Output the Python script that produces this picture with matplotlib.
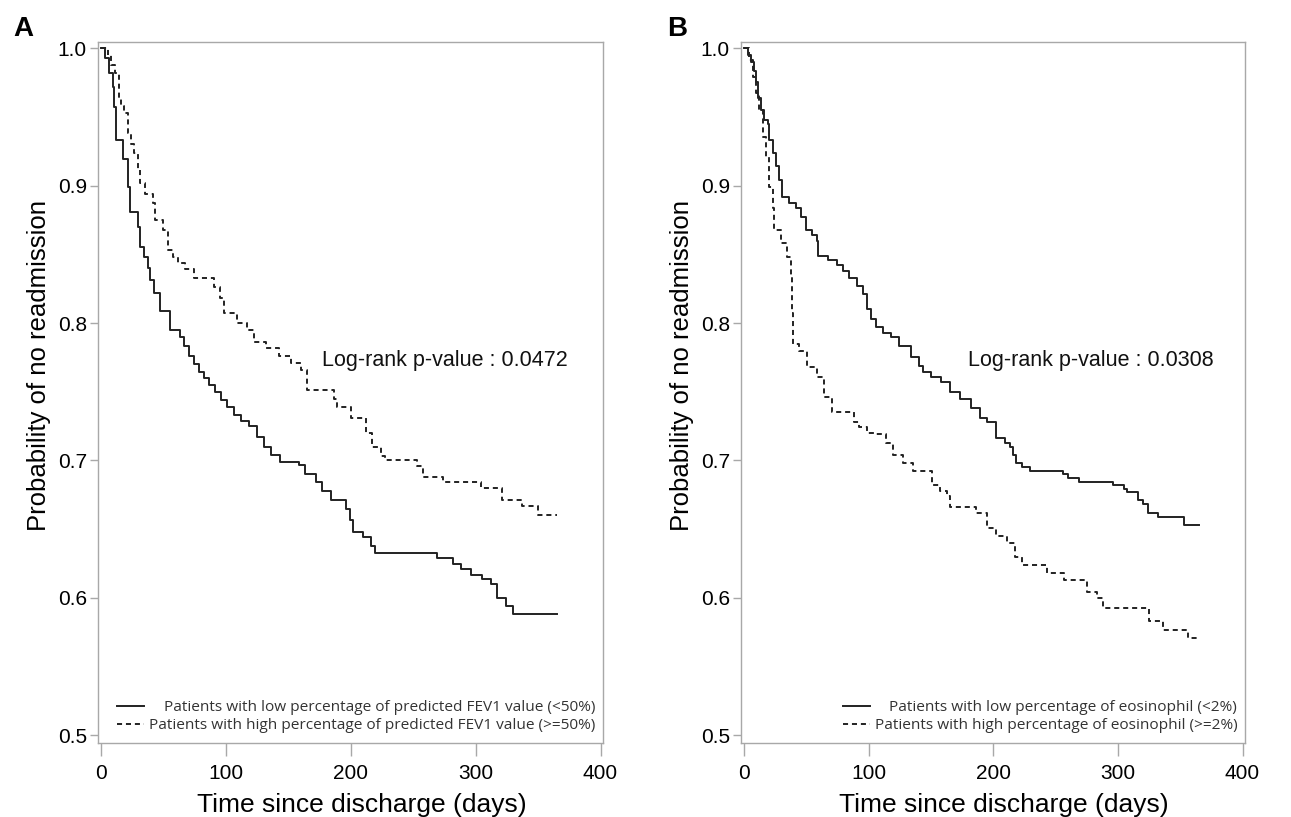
import matplotlib
matplotlib.use('Agg')
import matplotlib.pyplot as plt

plt.rcParams['font.family'] = ['Liberation Sans', 'DejaVu Sans']

# ---------------- data ----------------
# Panel A: FEV1 groups
a_low_t = [0, 3, 6, 9, 10, 12, 17, 21, 23, 29, 31, 34, 37, 39, 42, 47, 55, 63, 66, 70,
           74, 78, 82, 86, 91, 96, 101, 106, 112, 118, 125, 130, 136, 143, 158, 163, 172,
           177, 184, 196, 199, 202, 210, 216, 219, 269, 282, 288, 296, 305, 312, 317, 324,
           330, 365]
a_low_s = [1.0, 0.993, 0.982, 0.972, 0.957, 0.933, 0.919, 0.899, 0.881, 0.870, 0.855,
           0.848, 0.840, 0.831, 0.822, 0.809, 0.795, 0.790, 0.783, 0.776, 0.770, 0.764,
           0.760, 0.755, 0.750, 0.744, 0.739, 0.733, 0.729, 0.725, 0.717, 0.710, 0.704,
           0.699, 0.697, 0.690, 0.684, 0.678, 0.671, 0.665, 0.657, 0.648, 0.644, 0.638,
           0.633, 0.629, 0.625, 0.621, 0.617, 0.614, 0.610, 0.600, 0.594, 0.588, 0.588]

a_high_t = [0, 5, 8, 11, 14, 16, 18, 21, 24, 26, 29, 31, 35, 41, 43, 49, 53, 57, 61, 67,
            74, 90, 95, 98, 109, 117, 122, 132, 142, 152, 160, 165, 186, 189, 200, 212,
            217, 224, 227, 253, 258, 274, 304, 321, 337, 350, 365]
a_high_s = [1.0, 0.995, 0.988, 0.982, 0.964, 0.958, 0.953, 0.938, 0.930, 0.924, 0.912,
            0.902, 0.894, 0.887, 0.875, 0.868, 0.853, 0.848, 0.844, 0.839, 0.833, 0.826,
            0.818, 0.807, 0.800, 0.795, 0.786, 0.782, 0.776, 0.771, 0.766, 0.751, 0.745,
            0.739, 0.731, 0.720, 0.710, 0.703, 0.700, 0.696, 0.688, 0.684, 0.680, 0.671,
            0.667, 0.660, 0.660]

# Panel B: eosinophil groups
b_low_t = [0, 2.5, 5.5, 8, 9.6, 11, 13.5, 16, 18.5, 20, 22.5, 25.5, 28, 30.5, 36, 41.5,
           45.5, 49.5, 54, 58, 59, 67, 74, 79, 84, 90, 95, 98, 102, 106, 111, 118, 124,
           134, 140, 143, 150, 158, 165, 173, 182, 189, 195, 202, 209, 213, 216, 218, 223,
           229, 256, 260, 269, 296, 305, 307, 316, 320, 324, 332, 353, 365]
b_low_s = [1.0, 0.995, 0.990, 0.983, 0.975, 0.964, 0.955, 0.948, 0.945, 0.933, 0.924,
           0.914, 0.904, 0.892, 0.887, 0.884, 0.877, 0.868, 0.864, 0.860, 0.849, 0.846,
           0.842, 0.838, 0.833, 0.827, 0.821, 0.810, 0.803, 0.797, 0.793, 0.790, 0.783,
           0.775, 0.769, 0.764, 0.761, 0.757, 0.750, 0.745, 0.738, 0.731, 0.728, 0.716,
           0.713, 0.710, 0.704, 0.698, 0.695, 0.692, 0.690, 0.687, 0.684, 0.682, 0.679,
           0.677, 0.671, 0.668, 0.662, 0.659, 0.653, 0.653]

b_high_t = [0, 4, 6.5, 9.5, 12, 14.5, 17.5, 20, 22.5, 24, 29.5, 34.5, 37, 38, 39, 44,
            50.5, 58, 64, 70, 88, 92, 98, 106, 114, 119, 127, 135, 151, 157, 163, 165,
            186, 195, 202, 211, 217, 223, 243, 257, 275, 283, 288, 325, 336, 356, 365]
b_high_s = [1.0, 0.991, 0.979, 0.967, 0.955, 0.935, 0.921, 0.899, 0.884, 0.868, 0.858,
            0.848, 0.834, 0.807, 0.785, 0.780, 0.768, 0.761, 0.746, 0.735, 0.728, 0.724,
            0.720, 0.719, 0.713, 0.704, 0.698, 0.692, 0.682, 0.678, 0.674, 0.666, 0.662,
            0.651, 0.645, 0.640, 0.630, 0.624, 0.618, 0.613, 0.604, 0.600, 0.593, 0.583,
            0.577, 0.571, 0.571]

x_ticks = [0, 100, 200, 300, 400]
y_ticks = [0.5, 0.6, 0.7, 0.8, 0.9, 1.0]
y_tick_labels = ['0.5', '0.6', '0.7', '0.8', '0.9', '1.0']

a_labels = ['Patients with low percentage of predicted FEV1 value (<50%)',
            'Patients with high percentage of predicted FEV1 value (>=50%)']
b_labels = ['Patients with low percentage of eosinophil (<2%)',
            'Patients with high percentage of eosinophil (>=2%)']
a_pvalue = 'Log-rank p-value : 0.0472'
b_pvalue = 'Log-rank p-value : 0.0308'

# ---------------- figure ----------------
W, H = 1291, 817
DPI = 100
fig = plt.figure(figsize=(W / DPI, H / DPI), dpi=DPI)
axA = fig.add_axes([98 / W, 1 - 743 / H, 505 / W, 701 / H])
axB = fig.add_axes([741 / W, 1 - 743 / H, 504 / W, 701 / H])

line_col = '#222222'
spine_col = '#a8a8a8'
legends = []


def draw(ax, lt, ls_, ht, hs, labels, ptext, ptx):
    l1, = ax.step(lt, ls_, where='post', color=line_col, lw=1.4, label=labels[0])
    l2, = ax.step(ht, hs, where='post', color=line_col, lw=1.4,
                  linestyle=(0, (2.6, 2.0)), label=labels[1])
    ax.set_xlim(-2.8, 402)
    ax.set_ylim(0.4945, 1.0044)
    ax.set_xticks(x_ticks)
    ax.set_xticklabels([str(v) for v in x_ticks])
    ax.set_yticks(y_ticks)
    ax.set_yticklabels(y_tick_labels)
    for sp in ax.spines.values():
        sp.set_color(spine_col)
        sp.set_linewidth(1.0)
    ax.tick_params(axis='x', length=9, width=1, color=spine_col, labelsize=15, pad=6)
    ax.tick_params(axis='y', length=6, width=1, color=spine_col, labelsize=15, pad=2)
    ax.set_xlabel('Time since discharge (days)', fontsize=19)
    ax.set_ylabel('Probability of no readmission', fontsize=18.5)
    ax.xaxis.set_label_coords(0.522, -0.072)
    ax.yaxis.set_label_coords(-0.093, 0.538)
    ax.text(ptx, 0.546, ptext, transform=ax.transAxes, fontsize=15.5,
            ha='left', va='center', color='#111111')
    leg = ax.legend(handles=[l1, l2], loc='lower right', bbox_to_anchor=(1.012, -0.006),
                    frameon=False, prop={'family': ['Open Sans', 'DejaVu Sans'], 'size': 11.1},
                    handlelength=1.75, handletextpad=0.3, labelspacing=0.2,
                    labelcolor='#333333')
    legends.append(leg)


draw(axA, a_low_t, a_low_s, a_high_t, a_high_s, a_labels, a_pvalue, 0.4436)
draw(axB, b_low_t, b_low_s, b_high_t, b_high_s, b_labels, b_pvalue, 0.450)

# right-align legend texts while keeping handles in a left column
fig.canvas.draw()
renderer = fig.canvas.get_renderer()
for leg in legends:
    try:
        rows = leg._legend_handle_box.get_children()[0].get_children()
        widths = [t.get_window_extent(renderer).width for t in leg.get_texts()]
        wmax = max(widths)
        for row, w in zip(rows, widths):
            da = row.get_children()[0]
            da.width += (wmax - w) * 72.0 / DPI
    except Exception:
        pass

fig.text(13 / W, 1 - 29 / H, 'A', fontsize=20, fontweight='bold', ha='left', va='center')
fig.text(667 / W, 1 - 29 / H, 'B', fontsize=20, fontweight='bold', ha='left', va='center')

fig.savefig('out.png', dpi=DPI)
